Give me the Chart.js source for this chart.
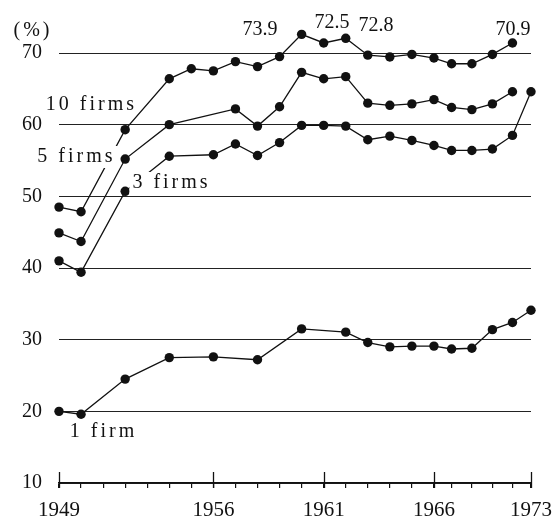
<!DOCTYPE html>
<html><head><meta charset="utf-8">
<script src="https://cdn.jsdelivr.net/npm/chart.js@4.4.1/dist/chart.umd.min.js"></script>
<style>html,body{margin:0;padding:0;background:#fff;} canvas{display:block;}</style>
</head><body>
<canvas id="c" width="553" height="519"></canvas>
<script>
// ---- data ----
const periods = [1949,1950,1951,1952,1953,1954,1955,1956,1957,1958,1959,1960,1961,1962,1963,1964,1965,1966,1967,1968,1969,1970,1973];
// horizontal plotting position of each period (axis is compressed after 1966)
const periodX = [0,1,2,3,4,5,6,7,8,9,10,11,12,13,14,15,16,17,17.8,18.72,19.65,20.56,21.4];
const firms10 = [48.5,47.85,null,59.3,null,66.4,67.8,67.5,68.8,68.1,69.5,72.6,71.4,72.05,69.7,69.45,69.8,69.3,68.5,68.5,69.8,71.4,null];
const firms5  = [44.9,43.7,null,55.2,null,60.0,null,null,62.2,59.8,62.5,67.3,66.4,66.7,63.0,62.7,62.9,63.5,62.4,62.1,62.9,64.6,null];
const firms3  = [41.0,39.4,null,50.7,null,55.6,null,55.8,57.3,55.7,57.5,59.9,59.9,59.8,57.9,58.4,57.8,57.1,56.4,56.4,56.6,58.5,64.6];
const firms1  = [20.0,19.6,null,24.5,null,27.5,null,27.6,null,27.2,null,31.5,null,31.05,29.6,29.0,29.1,29.1,28.7,28.8,31.4,32.4,34.1];
const seriesNames = ['10 firms','5 firms','3 firms','1 firm'];
const yTickValues = [10,20,30,40,50,60,70];
const majorYears = [1949,1956,1961,1966,1973];
const peakLabels = ['73.9','72.5','72.8','70.9'];
const unitLabel = '(%)';

// ---- layout (kept apart from data) ----
const peakLabelPos = [[9.11,73.3],[12.38,74.25],[14.37,73.83],[20.58,73.3]];
const seriesLabelPos = [[1.47,62.74],[0.79,55.49],[5.10,51.86],[2.02,17.12]];
const seriesKnockout = [false,true,true,false];
const FONT = '"Liberation Serif","DejaVu Serif",serif';
const INK = '#111';

function toPoints(vals){
  const out=[];
  vals.forEach((v,i)=>{ if(v!==null) out.push({x:periodX[i], y:v}); });
  return out;
}
const allSeries=[firms10,firms5,firms3,firms1];

function noPad(scale){ scale.paddingTop=0; scale.paddingBottom=0; scale.paddingLeft=0; scale.paddingRight=0; }

const annot = {
  id:'annot',
  afterDatasetsDraw(chart){
    const ctx=chart.ctx, xs=chart.scales.x, ys=chart.scales.y;
    ctx.save();
    // major ticks crossing the axis
    ctx.strokeStyle=INK; ctx.lineWidth=1.3;
    majorYears.forEach(yr=>{
      const i=periods.indexOf(yr);
      const px=Math.round(xs.getPixelForValue(periodX[i]))+0.5;
      ctx.beginPath(); ctx.moveTo(px, ys.bottom-11); ctx.lineTo(px, ys.bottom+5); ctx.stroke();
    });
    ctx.fillStyle=INK; ctx.textBaseline='middle'; ctx.textAlign='center';
    ctx.font='20px '+FONT;
    // peak value labels
    ctx.letterSpacing='0px';
    peakLabels.forEach((t,i)=>{
      ctx.fillText(t, xs.getPixelForValue(peakLabelPos[i][0]), ys.getPixelForValue(peakLabelPos[i][1]));
    });
    // unit label
    ctx.letterSpacing='3px';
    ctx.fillText(unitLabel, ys.left+33, ys.getPixelForValue(73.07));
    // series labels
    seriesNames.forEach((t,i)=>{
      const cx=xs.getPixelForValue(seriesLabelPos[i][0]);
      const cy=ys.getPixelForValue(seriesLabelPos[i][1]);
      const w=ctx.measureText(t).width;
      if(seriesKnockout[i]){
        ctx.fillStyle='#fff';
        ctx.fillRect(cx-w/2-3, cy-11, w+6, 22);
        ctx.fillStyle=INK;
      }
      ctx.fillText(t, cx, cy);
    });
    ctx.restore();
  }
};

new Chart(document.getElementById('c'), {
  type:'line',
  data:{
    datasets: allSeries.map((s,i)=>({
      label: seriesNames[i],
      data: toPoints(s),
      borderColor: INK,
      backgroundColor: INK,
      borderWidth: 1.3,
      pointRadius: 4.7,
      pointBorderWidth: 0,
      pointBackgroundColor: INK,
      tension: 0,
      clip: false
    }))
  },
  options:{
    responsive:false,
    animation:false,
    events:[],
    layout:{padding:{top:10,right:22,left:0,bottom:0}},
    plugins:{legend:{display:false}, tooltip:{enabled:false}},
    scales:{
      x:{
        type:'linear',
        min:0, max:periodX[periodX.length-1],
        afterBuildTicks(scale){ scale.ticks = periodX.map(v=>({value:v})); },
        afterFit(scale){ scale.height = 36; noPad(scale); },
        ticks:{
          autoSkip:false, maxRotation:0, padding:10,
          color:INK, font:{family:FONT, size:21},
          callback(v){
            const i=periodX.indexOf(v);
            return (i>=0 && majorYears.includes(periods[i])) ? String(periods[i]) : '';
          }
        },
        grid:{display:true, drawOnChartArea:false, drawTicks:true, tickLength:5, color:INK, lineWidth:1.2},
        border:{display:true, color:INK, width:1.5}
      },
      y:{
        type:'linear',
        min:10, max:76,
        afterBuildTicks(scale){ scale.ticks = yTickValues.map(v=>({value:v})); },
        afterFit(scale){ scale.width = 59; noPad(scale); },
        ticks:{padding:17, color:INK, font:{family:FONT, size:20}},
        grid:{display:true, drawTicks:false, color:'#222', lineWidth:1},
        border:{display:false}
      }
    }
  },
  plugins:[annot]
});
</script>
</body></html>
